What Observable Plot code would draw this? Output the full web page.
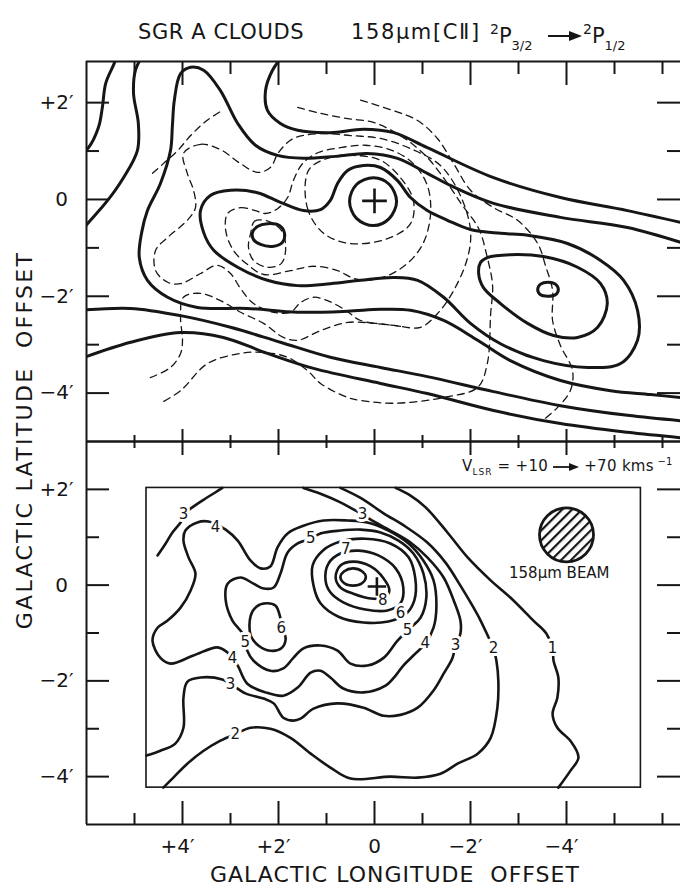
<!DOCTYPE html>
<html><head><meta charset="utf-8">
<script src="https://cdn.jsdelivr.net/npm/d3@7"></script>
<script src="https://cdn.jsdelivr.net/npm/@observablehq/plot@0.6"></script>
<style>
body{margin:0;background:#fff;}
#wrap{position:relative;width:680px;height:886px;overflow:hidden;background:#fff;
 font-family:"DejaVu Sans",sans-serif;color:#161616;}
#wrap > svg{position:absolute;left:0;top:0;}
.t{position:absolute;white-space:nowrap;line-height:1;}
.sp{font-size:14px;vertical-align:9px;}
.sb{font-size:13px;vertical-align:-7px;}
.arr{vertical-align:middle;}
</style></head><body><div id="wrap">
<div class="t" style="left:138px;top:22px;font-size:21px;letter-spacing:0.6px;">SGR A CLOUDS</div>
<div class="t" style="left:351px;top:22px;font-size:21px;letter-spacing:1.6px;">158μm[CⅡ]</div>
<div class="t" style="left:490px;top:22px;font-size:21px;"><span class="sp">2</span>P<span class="sb">3/2</span></div>
<div class="t" style="left:548px;top:27px;"><svg class="arr" width="34" height="12"><line x1="0" y1="6" x2="24" y2="6" stroke="#161616" stroke-width="2"/><path d="M21,1 L34,6 L21,11 Z" fill="#161616"/></svg></div>
<div class="t" style="left:583px;top:22px;font-size:21px;"><span class="sp">2</span>P<span class="sb">1/2</span></div>
<div class="t" style="left:462px;top:457px;font-size:15px;letter-spacing:0.3px;">V<span style="font-size:9px;vertical-align:-4px;letter-spacing:1px">LSR</span> = +10 <svg class="arr" width="26" height="10"><line x1="0" y1="5" x2="18" y2="5" stroke="#161616" stroke-width="1.8"/><path d="M16,1 L26,5 L16,9 Z" fill="#161616"/></svg> +70 kms<span style="font-size:10px;vertical-align:6px"> −1</span></div>
<div class="t" style="left:210px;top:864px;font-size:22px;letter-spacing:1px">GALACTIC LONGITUDE&nbsp; OFFSET</div>
<div class="t" style="left:25px;top:440px;font-size:22px;letter-spacing:2.3px;transform:translate(-50%,-50%) rotate(-90deg);">GALACTIC LATITUDE&nbsp; OFFSET</div>
</div>
<script>
// ---------- axis ticks ----------
const xTicksMajor = [4, 2, 0, -2, -4];
const xTicksMinor = [5, 3, 1, -1, -3, -5, -6];
const yTicksMajor = [2, 0, -2, -4];
const yTicksMinor = [1, -1, -3];
const xTickLabelsSigned = [[4, "+4′"], [2, "+2′"], [-2, "−2′"], [-4, "−4′"]];
const xTickLabelsZero = [[0, "0"]];
const yTickLabelsSigned = [[2, "+2′"], [-2, "−2′"], [-4, "−4′"]];
const yTickLabelsZero = [[0, "0"]];

// ---------- top panel: solid contours (arcmin: l, b) ----------
const topPeakLeft = [[2.54,-0.68],[2.44,-0.56],[2.23,-0.50],[1.98,-0.54],[1.875,-0.70],[1.92,-0.89],[2.125,-0.97],[2.375,-0.93],[2.52,-0.83]];
const topPeakCentre = [[-0.46,-0.04],[-0.31,0.31],[0.02,0.45],[0.375,0.31],[0.52,-0.04],[0.375,-0.39],[0.02,-0.54],[-0.31,-0.39]];
const topPeakRight = [[-3.83,-1.86],[-3.77,-1.75],[-3.61,-1.71],[-3.46,-1.75],[-3.40,-1.86],[-3.46,-1.97],[-3.61,-2.00],[-3.77,-1.97]];
const topRingRight = [[-2.21,-1.30],[-2.35,-1.20],[-2.83,-1.14],[-3.52,-1.18],[-4.23,-1.40],[-4.71,-1.74],[-4.85,-2.15],[-4.65,-2.64],[-4.23,-2.85],[-3.73,-2.81],[-3.19,-2.56],[-2.625,-2.15],[-2.27,-1.82],[-2.17,-1.53]];
const topRingAll = [[3.625,-0.23],[3.42,0.08],[3.0,0.19],[2.44,0.14],[1.96,-0.06],[1.48,-0.23],[1.125,-0.21],[0.92,-0.02],[0.77,0.33],[0.56,0.60],[0.23,0.70],[-0.125,0.66],[-0.48,0.39],[-0.75,0.04],[-1.10,-0.23],[-1.52,-0.43],[-2.0,-0.62],[-2.625,-0.70],[-3.19,-0.74],[-4.02,-0.91],[-4.71,-1.26],[-5.19,-1.67],[-5.48,-2.29],[-5.48,-2.91],[-5.125,-3.39],[-4.44,-3.47],[-3.52,-3.33],[-2.625,-2.98],[-2.0,-2.56],[-1.44,-2.02],[-0.90,-1.67],[-0.40,-1.61],[0.29,-1.67],[0.92,-1.74],[1.60,-1.78],[2.23,-1.67],[2.85,-1.40],[3.35,-1.05],[3.56,-0.68]];
const topLevel4 = [[-6.58,-0.95],[-5.27,-0.58],[-3.875,-0.37],[-2.48,-0.08],[-1.58,0.29],[-1.10,0.54],[-0.48,0.85],[0.15,0.95],[0.81,0.89],[1.48,0.85],[2.02,0.91],[2.48,1.12],[2.85,1.57],[3.21,2.25],[3.56,2.67],[3.83,2.73],[4.04,2.60],[4.17,2.05],[4.21,1.53],[4.25,1.01],[4.46,0.33],[4.73,-0.23],[4.85,-0.68],[4.90,-1.20],[4.73,-1.67],[4.31,-2.02],[3.69,-2.23],[2.65,-2.25],[1.60,-2.33],[0.56,-2.31],[-0.125,-2.27],[-0.75,-2.29],[-1.44,-2.50],[-2.15,-2.91],[-2.83,-3.33],[-3.875,-3.74],[-4.92,-3.95],[-5.75,-4.03],[-6.58,-4.11]];
const topLevel3 = [[1.90,2.98],[2.125,2.67],[2.27,2.25],[2.23,1.84],[1.96,1.57],[1.60,1.43],[0.92,1.38],[0.23,1.45],[-0.40,1.38],[-1.10,1.07],[-2.48,0.45],[-3.875,0.04],[-5.27,-0.23],[-6.58,-0.52]];
const topEdgeA = [[6.125,0.95],[5.96,1.07],[5.75,1.49],[5.67,1.90],[5.60,2.40],[5.44,2.77],[5.35,2.98]];
const topEdgeB = [[6.125,-0.66],[5.98,-0.50],[5.56,-0.02],[5.23,0.45],[4.94,1.01],[4.92,1.57],[5.02,2.19],[4.98,2.67],[4.83,2.98]];
const topLowA = [[6.125,-2.29],[5.08,-2.25],[4.04,-2.40],[3.0,-2.64],[1.96,-2.95],[0.92,-3.26],[-0.125,-3.47],[-1.10,-3.66],[-2.48,-3.97],[-3.875,-4.26],[-5.27,-4.46],[-6.58,-4.59]];
const topLowB = [[6.125,-3.29],[5.08,-2.95],[4.04,-2.75],[3.15,-2.85],[2.23,-3.18],[1.27,-3.49],[-0.125,-3.80],[-1.10,-4.01],[-2.48,-4.36],[-3.875,-4.63],[-5.27,-4.81],[-6.58,-4.94]];

// ---------- top panel: dashed contours ----------
const dashLeftPeak = [[2.58,-0.70],[2.50,-0.45],[2.21,-0.45],[1.94,-0.64],[1.85,-0.99],[1.94,-1.32],[2.23,-1.40],[2.52,-1.26],[2.625,-0.99]];
const dashCentre = [[1.375,0.60],[1.40,-0.17],[1.06,-0.70],[0.5,-0.91],[-0.27,-0.81],[-0.75,-0.50],[-0.81,-0.02],[-0.54,0.45],[-0.125,0.81],[0.44,0.91],[0.98,0.85]];
const dashMid = [[3.06,-0.29],[2.79,-0.17],[2.48,-0.23],[2.27,-0.29],[2.02,-0.19],[1.81,0.04],[1.69,0.39],[1.50,0.74],[1.17,0.97],[0.71,1.07],[0.19,1.12],[-0.375,1.01],[-0.81,0.74],[-1.10,0.29],[-1.17,-0.27],[-1.04,-0.85],[-0.81,-1.20],[-0.54,-1.43],[-0.23,-1.59],[0.15,-1.67],[0.44,-1.63],[0.77,-1.47],[1.27,-1.38],[1.75,-1.47],[2.31,-1.55],[2.65,-1.34],[2.94,-1.05],[3.10,-0.64]];
const dashOuter = [[3.98,0.95],[3.625,1.14],[3.21,1.03],[2.79,0.74],[2.44,0.56],[2.17,0.66],[2.0,0.97],[1.69,1.26],[1.125,1.36],[0.5,1.32],[-0.125,1.26],[-0.75,1.05],[-1.375,0.70],[-1.79,0.08],[-2.0,-0.64],[-1.94,-1.20],[-1.65,-1.88],[-1.31,-2.36],[-0.96,-2.64],[-0.40,-2.60],[0.29,-2.50],[0.60,-2.29],[0.98,-2.09],[1.27,-2.02],[1.54,-2.13],[1.75,-2.33],[2.10,-2.33],[2.52,-2.15],[2.79,-1.84],[3.0,-1.53],[3.27,-1.36],[3.625,-1.53],[4.04,-1.74],[4.31,-1.71],[4.56,-1.47],[4.56,-1.05],[4.31,-0.785],[3.90,-0.43],[3.73,-0.17],[3.77,0.19],[3.90,0.54]];
const dashLowLeft = [[4.67,-3.68],[4.25,-3.47],[4.04,-3.18],[4.0,-2.91],[4.04,-2.44],[3.98,-2.02],[3.625,-1.94],[3.21,-2.09],[2.79,-2.33],[2.31,-2.56],[1.90,-2.85],[1.60,-2.91],[1.125,-2.71],[0.56,-2.54],[-0.02,-2.56],[-0.54,-2.62]];
const dashSweepA = [[1.60,1.90],[1.125,1.78],[0.56,1.67],[0.02,1.59],[-0.54,1.32],[-1.06,0.91],[-1.48,0.39],[-1.83,-0.12],[-2.17,-0.60],[-2.35,-1.20],[-2.46,-1.78],[-2.42,-2.36],[-2.35,-3.39],[-2.15,-3.88],[-1.44,-4.09],[-0.40,-4.21],[0.29,-4.15],[0.56,-4.09],[1.125,-3.80],[1.40,-3.53],[1.81,-3.26],[2.31,-3.16],[2.79,-3.18],[3.48,-3.39],[4.04,-3.95],[4.46,-4.21]];
const dashSweepB = [[0.29,2.05],[-0.375,1.84],[-0.90,1.63],[-1.31,1.26],[-1.65,0.74],[-2.0,0.19],[-2.48,-0.17],[-2.98,-0.43],[-3.40,-0.91],[-3.56,-1.36],[-3.71,-1.88],[-3.71,-2.50],[-3.875,-3.02],[-4.125,-3.53],[-4.08,-3.95],[-3.81,-4.30],[-3.56,-4.52]];
const dashUpLeft = [[4.625,0.54],[4.40,0.74],[4.10,1.01],[3.83,1.32],[3.52,1.61],[3.17,1.84]];
const crossTop = [[0, -0.03]];

// ---------- bottom panel: labelled contours ----------
const lev9 = [[0.18,0.17],[0.26,0.29],[0.45,0.35],[0.63,0.29],[0.71,0.17],[0.63,0.04],[0.45,-0.01],[0.26,0.04]];
const lev8 = [[0.81,0.16],[0.71,0.41],[0.44,0.49],[0.08,0.39],[-0.19,0.14],[-0.31,-0.11],[-0.21,-0.26],[0.08,-0.28],[0.44,-0.18],[0.71,-0.05]];
const lev7 = [[1.02,0.10],[0.96,0.45],[0.71,0.66],[0.33,0.72],[-0.08,0.62],[-0.44,0.35],[-0.60,-0.05],[-0.54,-0.38],[-0.27,-0.53],[0.19,-0.51],[0.65,-0.36],[0.92,-0.15]];
const lev6 = [[1.27,-0.01],[1.29,0.41],[1.08,0.72],[0.71,0.91],[0.19,0.97],[-0.33,0.87],[-0.71,0.58],[-0.85,0.14],[-0.83,-0.32],[-0.65,-0.61],[-0.29,-0.76],[0.23,-0.78],[0.75,-0.66],[1.125,-0.38]];
const lev6Lobe = [[2.58,-0.64],[2.46,-0.45],[2.25,-0.38],[2.06,-0.43],[1.98,-0.61],[1.92,-0.89],[1.85,-1.12],[1.94,-1.32],[2.17,-1.37],[2.42,-1.26],[2.58,-1.05]];
const lev5 = [[1.33,0.97],[1.125,1.08],[0.71,1.14],[0.29,1.16],[-0.125,1.10],[-0.50,0.93],[-0.81,0.66],[-1.02,0.24],[-1.08,-0.26],[-0.96,-0.68],[-0.75,-0.89],[-0.48,-1.16],[-0.19,-1.52],[0.15,-1.68],[0.5,-1.64],[0.77,-1.37],[1.125,-1.26],[1.48,-1.32],[1.69,-1.52],[1.90,-1.74],[2.17,-1.79],[2.52,-1.58],[2.65,-1.37],[2.69,-1.20],[2.75,-1.01],[2.96,-0.74],[3.10,-0.32],[3.06,0.03],[2.79,0.16],[2.52,0.03],[2.31,-0.07],[2.10,-0.05],[1.96,0.24],[1.81,0.68],[1.60,0.87]];
const lev4 = [[3.98,0.93],[3.94,1.14],[3.69,1.31],[3.46,1.33],[3.31,1.27],[3.10,1.16],[2.85,0.93],[2.58,0.51],[2.375,0.35],[2.17,0.39],[2.02,0.79],[1.81,1.08],[1.48,1.24],[1.06,1.35],[0.56,1.35],[0.15,1.31],[-0.29,1.14],[-0.71,0.87],[-1.02,0.51],[-1.23,0.10],[-1.29,-0.43],[-1.23,-0.89],[-1.06,-1.22],[-0.81,-1.47],[-0.60,-1.68],[-0.44,-1.89],[-0.23,-2.10],[0.23,-2.24],[0.65,-2.16],[0.92,-1.93],[1.125,-1.79],[1.33,-1.83],[1.60,-2.14],[1.90,-2.31],[2.27,-2.24],[2.65,-2.06],[2.85,-1.68],[2.96,-1.53],[3.06,-1.41],[3.27,-1.30],[3.77,-1.47],[4.25,-1.64],[4.46,-1.52],[4.625,-1.16],[4.52,-0.89],[4.31,-0.74],[4.04,-0.47],[3.83,-0.11],[3.73,0.24],[3.875,0.58]];
const lev3Edge = [[4.52,0.62],[4.35,0.87],[4.21,1.10],[4.04,1.31],[3.92,1.52],[3.79,1.63],[3.52,1.81],[3.31,1.94],[3.17,2.03]];
const lev3 = [[1.48,2.03],[1.125,1.91],[0.71,1.73],[0.40,1.56],[0.25,1.48],[0.08,1.37],[-0.33,1.14],[-0.75,0.89],[-1.10,0.58],[-1.44,0.16],[-1.65,-0.32],[-1.79,-0.74],[-1.79,-1.01],[-1.69,-1.26],[-1.625,-1.52],[-1.44,-1.85],[-1.23,-2.20],[-0.90,-2.56],[-0.54,-2.71],[-0.19,-2.73],[0.23,-2.56],[0.77,-2.47],[1.27,-2.58],[1.54,-2.79],[1.69,-2.83],[1.90,-2.77],[2.10,-2.47],[2.31,-2.37],[2.69,-2.26],[3.0,-2.06],[3.17,-1.97],[3.625,-1.93],[3.90,-2.02],[3.98,-2.35],[3.98,-2.98],[4.15,-3.31],[4.46,-3.46],[4.75,-3.56]];
const lev2 = [[0.71,2.03],[0.29,1.82],[-0.19,1.50],[-0.65,1.22],[-1.10,0.89],[-1.48,0.47],[-1.79,-0.01],[-2.04,-0.43],[-2.21,-0.74],[-2.375,-1.09],[-2.48,-1.32],[-2.54,-1.58],[-2.58,-2.00],[-2.56,-2.56],[-2.42,-3.19],[-2.15,-3.52],[-1.73,-3.73],[-1.375,-3.94],[-0.90,-4.02],[-0.33,-4.00],[0.5,-4.04],[0.92,-3.81],[1.33,-3.52],[1.75,-3.19],[2.17,-3.00],[2.58,-2.98],[2.90,-3.11],[3.21,-3.25],[3.56,-3.46],[3.90,-3.73],[4.19,-4.02],[4.40,-4.23]];
const lev1 = [[-0.44,2.03],[-0.75,1.87],[-1.06,1.63],[-1.52,1.10],[-1.94,0.58],[-2.42,0.10],[-2.83,-0.26],[-3.31,-0.74],[-3.58,-1.01],[-3.71,-1.32],[-3.73,-1.58],[-3.83,-1.93],[-3.81,-2.35],[-3.71,-2.69],[-3.81,-2.98],[-4.08,-3.25],[-4.25,-3.60],[-4.08,-3.88],[-3.83,-4.23]];
const contourLabels = [[3.98,1.48,"3"],[3.31,1.20,"4"],[0.25,1.48,"3"],[1.33,0.97,"5"],[0.60,0.76,"7"],[-0.17,-0.32,"8"],[-0.54,-0.59,"6"],[-0.69,-0.95,"5"],[-1.06,-1.22,"4"],[-1.69,-1.26,"3"],[-2.48,-1.32,"2"],[-3.71,-1.32,"1"],[1.94,-0.89,"6"],[2.69,-1.20,"5"],[2.96,-1.53,"4"],[3.0,-2.06,"3"],[2.90,-3.11,"2"]];
const crossBottom = [[-0.05, -0.03]];
const innerBox = [{l1: 4.75, l2: -5.55, b1: 2.03, b2: -4.23}];
const beam = [[-4.0, 1.05]];
const beamLabel = [[-3.85, 0.24, "158μm BEAM"]];

// ---------- drawing ----------
const W = 680, H = 886;
const ink = "#161616";
const font = '"DejaVu Sans",sans-serif';
const xDom = [6, -6.375];

function contour(pts, closed, o) {
  return Plot.line(pts, {x: d => d[0], y: d => d[1], curve: closed ? "catmull-rom-closed" : "catmull-rom",
    stroke: ink, clip: true, strokeLinejoin: "round", strokeLinecap: "round", ...o});
}
function panelTicks(fw, fh, topLong, topShort, botLong, botShort) {
  const s = {stroke: ink, strokeWidth: 2};
  return [
    Plot.tickX(xTicksMajor, {x: d => d, insetBottom: fh - topLong, ...s}),
    Plot.tickX(xTicksMinor, {x: d => d, insetBottom: fh - topShort, ...s}),
    Plot.tickX(xTicksMajor, {x: d => d, insetTop: fh - botLong, ...s}),
    Plot.tickX(xTicksMinor, {x: d => d, insetTop: fh - botShort, ...s}),
    Plot.tickY(yTicksMajor, {y: d => d, insetRight: fw - 23, ...s}),
    Plot.tickY(yTicksMinor, {y: d => d, insetRight: fw - 13, ...s}),
    Plot.tickY(yTicksMajor, {y: d => d, insetLeft: fw - 23, ...s}),
    Plot.tickY(yTicksMinor, {y: d => d, insetLeft: fw - 13, ...s})
  ];
}
const yLabMarks = [
  Plot.text(yTickLabelsSigned, {y: d => d[0], text: d => d[1], frameAnchor: "left", dx: -30,
    textAnchor: "middle", fontSize: 20, fill: ink}),
  Plot.text(yTickLabelsZero, {y: d => d[0], text: d => d[1], frameAnchor: "left", dx: -25,
    textAnchor: "middle", fontSize: 20, fill: ink})
];

const solid = {strokeWidth: 3};
const dashed = {strokeWidth: 1.3, strokeDasharray: "7,5"};

const topPlot = Plot.plot({
  width: W, height: H, marginTop: 61, marginBottom: H - 441, marginLeft: 86, marginRight: 0,
  x: {domain: xDom, axis: null}, y: {domain: [-5, 2.85], axis: null},
  style: {fontFamily: font, background: "transparent"},
  marks: [
    ...[dashLeftPeak, dashCentre, dashMid, dashOuter].map(c => contour(c, true, dashed)),
    ...[dashLowLeft, dashSweepA, dashSweepB, dashUpLeft].map(c => contour(c, false, dashed)),
    ...[topPeakLeft, topPeakCentre, topPeakRight, topRingRight, topRingAll].map(c => contour(c, true, solid)),
    ...[topLevel4, topLevel3, topEdgeA, topEdgeB, topLowA, topLowB].map(c => contour(c, false, solid)),
    Plot.dot(crossTop, {x: d => d[0], y: d => d[1], symbol: "plus", r: 8, stroke: ink, strokeWidth: 2.6}),
    Plot.ruleX([6], {stroke: ink, strokeWidth: 2}),
    Plot.ruleY([2.85, -5], {stroke: ink, strokeWidth: 2}),
    ...panelTicks(594, 380, 24, 13, 12, 6),
    ...yLabMarks
  ]
});

const lab = {stroke: ink, strokeWidth: 2.6};
const botPlot = Plot.plot({
  width: W, height: H, marginTop: 441, marginBottom: H - 824, marginLeft: 86, marginRight: 0,
  x: {domain: xDom, axis: null}, y: {domain: [-5, 3], axis: null},
  style: {fontFamily: font, background: "transparent"},
  marks: [
    Plot.rect(innerBox, {x1: "l1", x2: "l2", y1: "b1", y2: "b2", fill: "none", stroke: ink, strokeWidth: 1.6}),
    ...[lev9, lev8, lev7, lev6, lev6Lobe, lev5, lev4].map(c => contour(c, true, lab)),
    ...[lev3Edge, lev3, lev2, lev1].map(c => contour(c, false, lab)),
    Plot.text(contourLabels, {x: d => d[0], y: d => d[1], text: d => d[2], fontSize: 15, fill: ink,
      stroke: "white", strokeWidth: 6, paintOrder: "stroke"}),
    Plot.dot(crossBottom, {x: d => d[0], y: d => d[1], symbol: "plus", r: 6, stroke: ink, strokeWidth: 2.6}),
    Plot.dot(beam, {x: d => d[0], y: d => d[1], r: 27, stroke: ink, strokeWidth: 2.8, fill: "url(#hatch)", ariaLabel: "beam"}),
    Plot.text(beamLabel, {x: d => d[0], y: d => d[1], text: d => d[2], fontSize: 15, fill: ink}),
    Plot.ruleX([6], {stroke: ink, strokeWidth: 2}),
    Plot.ruleY([3, -5], {stroke: ink, strokeWidth: 2}),
    ...panelTicks(594, 383, 14, 7, 23, 11),
    ...yLabMarks,
    Plot.text(xTickLabelsSigned, {x: d => d[0], text: d => d[1], frameAnchor: "bottom", dy: 22, dx: -5,
      lineAnchor: "middle", fontSize: 20, fill: ink}),
    Plot.text(xTickLabelsZero, {x: d => d[0], text: d => d[1], frameAnchor: "bottom", dy: 22,
      lineAnchor: "middle", fontSize: 20, fill: ink})
  ]
});

const wrap = document.getElementById("wrap");
wrap.prepend(botPlot);
wrap.prepend(topPlot);
// hatch pattern for the beam
const defs = d3.select(botPlot).insert("defs", ":first-child");
const pat = defs.append("pattern").attr("id", "hatch").attr("patternUnits", "userSpaceOnUse")
  .attr("width", 7).attr("height", 7).attr("patternTransform", "rotate(45)");
pat.append("rect").attr("width", 7).attr("height", 7).attr("fill", "white");
pat.append("line").attr("x1", 1).attr("y1", 0).attr("x2", 1).attr("y2", 7).attr("stroke", ink).attr("stroke-width", 2.4);
d3.select(botPlot).selectAll('g[aria-label="beam"] circle, g[aria-label="beam"] path').attr("fill", "url(#hatch)");
</script>
</body></html>
